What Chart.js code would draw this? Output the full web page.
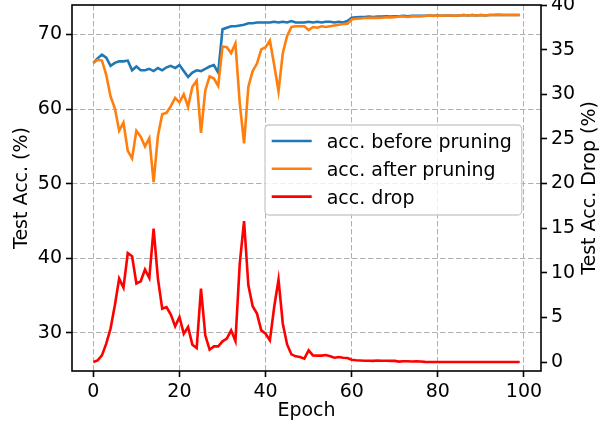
<!DOCTYPE html>
<html><head><meta charset="utf-8">
<script src="https://cdn.jsdelivr.net/npm/chart.js@4/dist/chart.umd.min.js"></script>
<style>html,body{margin:0;padding:0;background:#fff;overflow:hidden}#wrap{width:613px;height:427px}</style>
</head><body><div id="wrap"><canvas id="c" width="613" height="427"></canvas></div>
<script>
const epochs = [0,1,2,3,4,5,6,7,8,9,10,11,12,13,14,15,16,17,18,19,20,21,22,23,24,25,26,27,28,29,30,31,32,33,34,35,36,37,38,39,40,41,42,43,44,45,46,47,48,49,50,51,52,53,54,55,56,57,58,59,60,61,62,63,64,65,66,67,68,69,70,71,72,73,74,75,76,77,78,79,80,81,82,83,84,85,86,87,88,89,90,91,92,93,94,95,96,97,98,99];
const beforeAcc = [
66.2,66.8,67.3,66.9,65.8,66.2,66.4,66.4,66.5,65.2,
65.7,65.2,65.2,65.4,65.1,65.5,65.2,65.6,65.8,65.5,
65.9,65.1,64.3,64.9,65.2,65.1,65.4,65.7,65.9,64.9,
70.7,70.9,71.1,71.1,71.2,71.3,71.5,71.5,71.6,71.6,
71.6,71.6,71.7,71.6,71.7,71.6,71.8,71.6,71.6,71.6,
71.7,71.6,71.7,71.6,71.7,71.7,71.6,71.7,71.6,71.8,
72.25,72.3,72.35,72.35,72.4,72.35,72.4,72.4,72.45,72.4,
72.45,72.45,72.5,72.45,72.5,72.5,72.5,72.5,72.55,72.5,
72.55,72.5,72.55,72.55,72.5,72.55,72.6,72.55,72.6,72.55,
72.6,72.55,72.6,72.6,72.65,72.6,72.6,72.6,72.6,72.6];
const afterAcc = [
66.2,66.6,66.5,64.6,61.7,60.1,57.1,58.2,54.4,53.4,
57.1,56.3,55.0,56.1,50.2,56.4,59.3,59.5,60.4,61.5,
60.9,62.0,60.3,63.0,63.8,56.8,62.5,64.4,64.1,63.1,
68.4,68.3,67.5,68.8,60.8,55.4,63.0,65.1,66.1,68.0,
68.3,69.2,65.9,62.4,67.5,69.8,71.0,71.1,71.1,71.1,
70.6,71.0,70.9,71.1,71.0,71.1,71.2,71.3,71.4,71.45,
72.0,72.1,72.15,72.2,72.25,72.22,72.23,72.25,72.3,72.27,
72.32,72.4,72.4,72.35,72.43,72.42,72.43,72.48,72.54,72.49,
72.54,72.5,72.55,72.54,72.5,72.55,72.6,72.55,72.6,72.55,
72.6,72.55,72.6,72.6,72.65,72.6,72.6,72.6,72.6,72.6];
const accDrop = [
0.0,0.19,0.75,2.06,3.75,6.36,9.35,8.34,12.2,11.85,
8.8,9.05,10.36,9.42,14.96,9.35,5.99,6.17,5.32,4.0,
5.05,3.18,3.93,1.95,1.57,8.23,3.0,1.39,1.76,1.76,
2.32,2.62,3.55,2.35,11.03,15.8,8.6,6.25,5.43,3.55,
3.18,2.43,6.17,9.24,4.3,1.98,0.86,0.64,0.56,0.38,
1.31,0.75,0.72,0.72,0.79,0.64,0.49,0.56,0.49,0.45,
0.27,0.2,0.18,0.15,0.15,0.13,0.17,0.15,0.15,0.13,
0.13,0.05,0.1,0.1,0.07,0.08,0.07,0.02,0.01,0.01,
0,0,0,0,0,0,0,0,0,0,
0,0,0,0,0,0,0,0,0,0];
const xTicks = [0,20,40,60,80,100];
const accTicks = [30,40,50,60,70];
const dropTicks = [0,5,10,15,20,25,30,35,40];
const seriesLabels = ['acc. before pruning','acc. after pruning','acc. drop'];
const xTitle = 'Epoch';
const accTitle = 'Test Acc. (%)';
const dropTitle = 'Test Acc. Drop (%)';

const FONT = "'DejaVu Sans', sans-serif";
Chart.defaults.font.family = FONT;
Chart.defaults.font.size = 19;
Chart.defaults.color = '#000';

const GRID = {color:'#b0b0b0', lineWidth:1, tickColor:'#000', tickWidth:1.6, tickLength:6, drawTicks:true};
const DASH = [5.5,2.5];
const noPad = s => { s.paddingTop = 0; s.paddingBottom = 0; };

const frameLegend = {
  id:'frameLegend',
  afterDatasetsDraw(chart){
    const {ctx, chartArea:a} = chart;
    ctx.save();
    ctx.strokeStyle = '#000';
    ctx.lineWidth = 1.6;
    ctx.strokeRect(a.left, a.top, a.right-a.left, a.bottom-a.top);
    // legend
    const bx = a.left + 193, by = a.top + 120, bw = 256.7, bh = 90, r = 4;
    ctx.beginPath();
    ctx.moveTo(bx+r,by);
    ctx.arcTo(bx+bw,by,bx+bw,by+bh,r);
    ctx.arcTo(bx+bw,by+bh,bx,by+bh,r);
    ctx.arcTo(bx,by+bh,bx,by,r);
    ctx.arcTo(bx,by,bx+bw,by,r);
    ctx.closePath();
    ctx.fillStyle = 'rgba(255,255,255,0.8)';
    ctx.fill();
    ctx.strokeStyle = '#cccccc';
    ctx.lineWidth = 1.3;
    ctx.stroke();
    ctx.font = '19px ' + FONT;
    ctx.textAlign = 'left';
    ctx.textBaseline = 'alphabetic';
    chart.data.datasets.forEach((ds,i)=>{
      const ly = by + 16 + i*27.8;
      ctx.beginPath();
      ctx.moveTo(bx+6.7, ly);
      ctx.lineTo(bx+46.7, ly);
      ctx.strokeStyle = ds.borderColor;
      ctx.lineWidth = 2.6;
      ctx.stroke();
      ctx.fillStyle = '#000';
      ctx.fillText(ds.label, bx+61.7, ly+7.3);
    });
    // right axis title (reads bottom-to-top)
    ctx.save();
    ctx.translate(590.5, (a.top+a.bottom)/2);
    ctx.rotate(-Math.PI/2);
    ctx.textAlign = 'center';
    ctx.textBaseline = 'middle';
    ctx.fillText(dropTitle, 0, 0);
    ctx.restore();
    ctx.restore();
  }
};

new Chart(document.getElementById('c'), {
  type:'line',
  data:{
    labels: epochs,
    datasets:[
      {label:seriesLabels[0], data:beforeAcc, borderColor:'#1f77b4', yAxisID:'y', order:3},
      {label:seriesLabels[1], data:afterAcc, borderColor:'#ff7f0e', yAxisID:'y', order:2},
      {label:seriesLabels[2], data:accDrop, borderColor:'#ff0000', yAxisID:'y2', order:1}
    ]
  },
  options:{
    responsive:false,
    animation:false,
    layout:{padding:{top:5,left:0,right:0,bottom:0}},
    elements:{line:{borderWidth:2.6, tension:0, fill:false}, point:{radius:0, hoverRadius:0}},
    plugins:{legend:{display:false}, tooltip:{enabled:false}},
    events:[],
    scales:{
      x:{
        type:'linear', min:-4.95, max:103.95,
        afterBuildTicks:s=>{s.ticks = xTicks.map(v=>({value:v}));},
        ticks:{autoSkip:false, maxRotation:0, padding:4, callback:v=>String(v)},
        grid:GRID, border:{display:false, dash:DASH},
        title:{display:true, text:xTitle, padding:{top:0,bottom:5}},
        afterFit:s=>{s.height = 56; s.paddingLeft = 0; s.paddingRight = 0;}
      },
      y:{
        type:'linear', position:'left', min:24.9, max:73.95,
        afterBuildTicks:s=>{s.ticks = accTicks.map(v=>({value:v}));},
        ticks:{autoSkip:false, padding:4, callback:v=>String(v)},
        grid:GRID, border:{display:false, dash:DASH},
        title:{display:true, text:accTitle, padding:{top:11,bottom:0}},
        afterFit:s=>{s.width = 72; noPad(s);}
      },
      y2:{
        type:'linear', position:'right', min:-1.0, max:40.0,
        afterBuildTicks:s=>{s.ticks = dropTicks.map(v=>({value:v}));},
        ticks:{autoSkip:false, padding:4, callback:v=>String(v)},
        grid:Object.assign({}, GRID, {drawOnChartArea:false}), border:{display:false},
        afterFit:s=>{s.width = 72; noPad(s);}
      }
    }
  },
  plugins:[frameLegend]
});
</script></body></html>
